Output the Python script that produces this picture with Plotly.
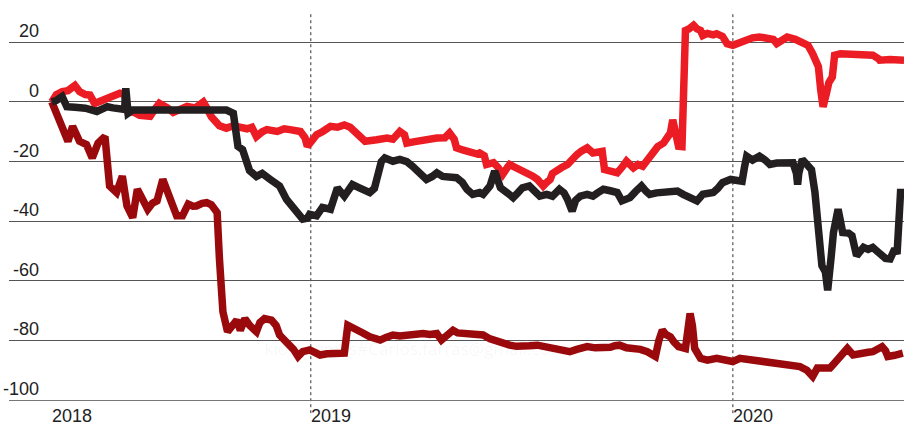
import plotly.graph_objects as go

# ---------------- data ----------------
red_dates = ["2018-05-22","2018-05-26","2018-05-31","2018-06-05","2018-06-11","2018-06-15","2018-06-20","2018-06-24","2018-06-28","2018-07-03",
"2018-07-09","2018-07-14","2018-07-20","2018-07-24","2018-07-27","2018-07-31","2018-08-06","2018-08-15","2018-08-19","2018-08-23",
"2018-08-30","2018-09-04","2018-09-10","2018-09-16","2018-09-23","2018-09-30","2018-10-03","2018-10-07","2018-10-14","2018-10-20",
"2018-10-26","2018-11-01","2018-11-07","2018-11-11","2018-11-15","2018-11-20","2018-11-24","2018-12-03","2018-12-09","2018-12-14",
"2018-12-23","2018-12-27","2018-12-29","2019-01-02","2019-01-06","2019-01-11","2019-01-18","2019-01-24","2019-01-30","2019-02-04",
"2019-02-10","2019-02-17","2019-02-27","2019-03-08","2019-03-13","2019-03-19","2019-03-23","2019-03-25","2019-04-01","2019-04-08",
"2019-04-14","2019-04-20","2019-04-27","2019-05-01","2019-05-05","2019-05-07","2019-05-13","2019-05-19","2019-05-25","2019-05-27",
"2019-05-31","2019-06-02","2019-06-08","2019-06-12","2019-06-16","2019-06-20","2019-06-22","2019-06-27","2019-07-01","2019-07-07",
"2019-07-12","2019-07-16","2019-07-21","2019-07-24","2019-07-27","2019-07-29","2019-08-02","2019-08-06","2019-08-11","2019-08-15",
"2019-08-19","2019-08-23","2019-08-28","2019-09-02","2019-09-06","2019-09-10","2019-09-12","2019-09-17","2019-09-23","2019-09-27",
"2019-10-01","2019-10-07","2019-10-11","2019-10-15","2019-10-20","2019-10-24","2019-10-28","2019-11-02","2019-11-06","2019-11-08",
"2019-11-10","2019-11-13","2019-11-15","2019-11-18","2019-11-21","2019-11-24","2019-11-28","2019-12-01","2019-12-04","2019-12-06",
"2019-12-10","2019-12-15","2019-12-18","2019-12-23","2019-12-27","2020-01-01","2020-01-07","2020-01-13","2020-01-18","2020-01-24",
"2020-01-30","2020-02-05","2020-02-08","2020-02-12","2020-02-17","2020-02-24","2020-03-02","2020-03-06","2020-03-10","2020-03-15",
"2020-03-17","2020-03-19","2020-03-22","2020-03-24","2020-03-27","2020-03-29","2020-04-03","2020-04-09","2020-04-20","2020-05-01",
"2020-05-06","2020-05-07","2020-05-16","2020-05-28"]
red_vals = [0,2.5,3.5,3.8,5.5,3.5,2.5,2.3,-0.5,0.5,
1.2,2,2.9,2.5,-3.5,-3.3,-4.5,-4.8,-2.5,-0.5,
-2,-3.5,-2.5,-1.5,-2,0,-2,-5,-8,-8.8,
-8,-8.5,-9,-8.5,-11.6,-10,-9.3,-9.9,-9,-9.3,
-9.9,-12,-14.9,-13,-11,-10,-8.2,-8.5,-7.7,-8.5,
-10.4,-13.2,-12.7,-12.1,-12.5,-9.9,-11,-13.8,-13.3,-12.7,
-12.5,-12.1,-12,-10.4,-12.5,-15.4,-16.2,-17,-17.5,-17.1,
-18,-21,-20.4,-22,-24.3,-22,-21,-22,-22.7,-23.5,
-24.9,-26,-28.2,-27,-26,-24,-22.7,-22,-21,-19,
-17.7,-16.5,-15.4,-17.1,-17,-16.6,-22.7,-23.5,-23.8,-22,
-19.9,-22.1,-21,-21.6,-19,-16.6,-15,-13.8,-11.5,-10.4,
-6,-10,-14.9,-15,24,24.5,25.7,24.5,24,22.3,
23,22.5,22.9,22,19.5,19,20,20.7,21.5,21.8,
21.5,21,19.6,20.5,21.8,21,20.1,19,16.2,11.8,
4,-1.6,3,6.5,8.4,15.7,16.2,16.2,16.2,15.7,
14.5,14,14.2,14]

black_dates = ["2018-05-22","2018-05-26","2018-05-31","2018-06-02","2018-06-04","2018-06-11","2018-06-20","2018-06-30","2018-07-09","2018-07-14",
"2018-07-20","2018-07-24","2018-07-25","2018-07-27","2018-07-31","2018-08-15","2018-09-01","2018-09-18","2018-10-06","2018-10-20",
"2018-10-26","2018-10-28","2018-10-30","2018-11-03","2018-11-07","2018-11-09","2018-11-15","2018-11-20","2018-11-27","2018-12-05",
"2018-12-11","2018-12-16","2018-12-20","2018-12-25","2018-12-29","2018-12-31","2019-01-06","2019-01-11","2019-01-18","2019-01-22",
"2019-01-24","2019-01-30","2019-02-06","2019-02-12","2019-02-21","2019-02-25","2019-02-27","2019-03-03","2019-03-06","2019-03-13",
"2019-03-19","2019-03-25","2019-03-30","2019-04-05","2019-04-11","2019-04-16","2019-04-20","2019-04-25","2019-05-01","2019-05-07",
"2019-05-12","2019-05-16","2019-05-21","2019-05-27","2019-05-30","2019-06-05","2019-06-09","2019-06-14","2019-06-20","2019-06-25",
"2019-06-29","2019-07-03","2019-07-09","2019-07-14","2019-07-18","2019-07-24","2019-07-29","2019-08-04","2019-08-08","2019-08-11",
"2019-08-15","2019-08-18","2019-08-22","2019-08-28","2019-09-02","2019-09-06","2019-09-11","2019-09-17","2019-09-23","2019-09-27",
"2019-10-04","2019-10-09","2019-10-14","2019-10-18","2019-10-21","2019-10-27","2019-11-02","2019-11-08","2019-11-14","2019-11-19",
"2019-11-25","2019-12-01","2019-12-06","2019-12-10","2019-12-15","2019-12-19","2019-12-23","2019-12-30","2020-01-04","2020-01-09",
"2020-01-11","2020-01-13","2020-01-18","2020-01-22","2020-01-24","2020-01-29","2020-02-02","2020-02-08","2020-02-13","2020-02-19",
"2020-02-22","2020-02-25","2020-02-26","2020-02-27","2020-03-01","2020-03-05","2020-03-09","2020-03-12","2020-03-15","2020-03-18",
"2020-03-21","2020-03-23","2020-03-26","2020-03-28","2020-04-01","2020-04-04","2020-04-05","2020-04-10","2020-04-13","2020-04-17",
"2020-04-20","2020-04-23","2020-04-27","2020-05-01","2020-05-06","2020-05-09","2020-05-12","2020-05-16","2020-05-20","2020-05-22",
"2020-05-24","2020-05-25","2020-05-28"]
black_vals = [0,0.5,1.8,0,-1.6,-1.8,-2.1,-3.2,-1.6,-2,
-2.1,-2.5,4.6,-3.8,-2.7,-2.7,-2.5,-2.7,-2.7,-2.7,
-3.8,-10,-14.9,-16,-20,-23,-25,-24,-26,-28.2,
-32.7,-35,-37.7,-39.3,-39,-37.7,-38.2,-35.4,-36,-32,
-28.8,-31.6,-27.7,-28.8,-30.4,-29,-24.9,-20,-18.8,-19.9,
-19.3,-20,-21.6,-24,-26,-25,-23.8,-25,-25.4,-25.4,
-27,-29.3,-31,-30.4,-31,-28.2,-23.2,-28.8,-30.5,-32.1,
-30.5,-28.8,-28.2,-30,-31.6,-31,-31.6,-29.3,-30.5,-32.7,
-36.6,-33,-31.6,-31,-31.6,-30.5,-29.3,-29.8,-30.4,-33.2,
-32.1,-30,-28.2,-30,-31,-30.5,-30.4,-30,-29.9,-31,
-32.1,-33.2,-31,-30.8,-30.4,-29,-27.1,-26,-26.3,-26.6,
-22,-18.2,-19.5,-19,-18.2,-19.5,-21,-20.5,-20.4,-20.8,
-20.4,-24,-27.7,-24,-19.3,-21,-22.7,-30.4,-47.1,-54.9,
-57,-63.2,-52,-43.8,-36,-41,-43.8,-44,-44.9,-51.6,
-50,-48.8,-49.5,-48.8,-50.5,-51.6,-52.5,-52.7,-49.3,-51,
-40,-30.4,-30.4]

dark_dates = ["2018-05-22","2018-05-26","2018-06-01","2018-06-05","2018-06-09","2018-06-15","2018-06-21","2018-06-26","2018-07-01","2018-07-07",
"2018-07-09","2018-07-11","2018-07-17","2018-07-22","2018-07-26","2018-07-31","2018-08-04","2018-08-09","2018-08-13","2018-08-17",
"2018-08-21","2018-08-26","2018-08-30","2018-09-03","2018-09-07","2018-09-12","2018-09-17","2018-09-21","2018-09-24","2018-09-29",
"2018-10-03","2018-10-07","2018-10-12","2018-10-14","2018-10-17","2018-10-21","2018-10-26","2018-10-29","2018-11-01","2018-11-05",
"2018-11-09","2018-11-12","2018-11-15","2018-11-18","2018-11-22","2018-11-28","2018-12-02","2018-12-05","2018-12-10","2018-12-14",
"2018-12-17","2018-12-21","2018-12-25","2018-12-31","2019-01-05","2019-01-09","2019-01-15","2019-01-20","2019-01-26","2019-01-30",
"2019-02-02","2019-02-06","2019-02-10","2019-02-15","2019-02-21","2019-02-25","2019-03-02","2019-03-07","2019-03-13","2019-03-19",
"2019-03-25","2019-04-01","2019-04-08","2019-04-14","2019-04-20","2019-04-24","2019-04-29","2019-05-04","2019-05-08","2019-05-13",
"2019-05-19","2019-05-24","2019-05-30","2019-06-05","2019-06-11","2019-06-16","2019-06-22","2019-06-28","2019-07-03","2019-07-09",
"2019-07-16","2019-07-21","2019-07-27","2019-08-02","2019-08-07","2019-08-13","2019-08-19","2019-08-24","2019-08-28","2019-09-04",
"2019-09-11","2019-09-17","2019-09-21","2019-09-25","2019-10-01","2019-10-07","2019-10-13","2019-10-19","2019-10-23","2019-10-26",
"2019-10-29","2019-11-01","2019-11-04","2019-11-08","2019-11-11","2019-11-15","2019-11-21","2019-11-23","2019-11-25","2019-11-27",
"2019-11-29","2019-12-04","2019-12-10","2019-12-18","2019-12-25","2020-01-01","2020-01-07","2020-01-13","2020-01-22","2020-01-29",
"2020-02-02","2020-02-11","2020-02-17","2020-02-24","2020-02-28","2020-03-05","2020-03-10","2020-03-14","2020-03-19","2020-03-25",
"2020-03-28","2020-04-01","2020-04-05","2020-04-09","2020-04-14","2020-04-18","2020-04-23","2020-04-27","2020-05-01","2020-05-06",
"2020-05-09","2020-05-12","2020-05-14","2020-05-20","2020-05-27"]
dark_vals = [0,-3.8,-8.2,-13.2,-8.2,-13.2,-14.3,-18.8,-13.8,-11.6,
-20,-28.2,-30.4,-24.9,-34.9,-38.8,-29.3,-32.7,-36,-34,
-33.2,-26,-30,-33.2,-38.2,-38.2,-34.3,-35,-34.9,-34,
-33.8,-34.5,-37.1,-52.7,-70.4,-77.1,-75,-73.2,-76.6,-72.7,
-74.9,-76,-77.1,-74,-72.7,-73.2,-75,-78.2,-80,-82.1,
-83,-85.4,-83.8,-83.2,-84,-84.9,-84.5,-84.3,-84.5,-84.3,
-74.9,-75.5,-76.6,-77.5,-78.8,-79.5,-79.9,-79,-78.2,-78.5,
-78.2,-78,-77.7,-78,-77.7,-79.9,-78.5,-76.6,-77.5,-77.7,
-77.7,-78.5,-78.2,-79.5,-80.4,-81,-81.6,-82,-82.1,-81.8,
-81.6,-82,-82.1,-82.5,-83,-83.8,-83,-82.5,-82.1,-82.5,
-82.7,-82.3,-81.8,-81.6,-82.5,-82.7,-83,-83.8,-84.5,-85.4,
-80,-76.6,-78,-78.8,-80.5,-82.1,-82.7,-78,-71,-75,
-82.7,-86,-86.6,-86,-86.5,-87.1,-86,-86.3,-86.6,-87,
-87.1,-87.5,-87.7,-88.2,-88.8,-90,-92.1,-89.3,-89.5,-89.3,
-88,-86,-84,-82.7,-84.9,-84.5,-83.8,-84,-83.8,-83,
-82.1,-83.5,-85.4,-85,-84.3]

y_ticks = [20, 0, -20, -40, -60, -80, -100]
year_labels = ["2018", "2019", "2020"]
year_dates = ["2018-05-22", "2019-01-01", "2020-01-01"]
year_lines = ["2019-01-01", "2020-01-01"]
watermark = "kioskoymas#Carlos.farras@gmail.com"

RED = "#ec1c24"
DARK = "#9a0a0c"
BLACK = "#231f20"

fig = go.Figure()

# faint watermark (drawn below the lines)
fig.add_trace(go.Scatter(x=["2018-11-22"], y=[-83.5], mode="text", text=[watermark],
                         textposition="middle right",
                         textfont=dict(family="Open Sans, Liberation Sans", size=17, color="rgba(0,0,0,0.045)"),
                         hoverinfo="skip", showlegend=False))

for d, v, c in [(dark_dates, dark_vals, DARK), (red_dates, red_vals, RED), (black_dates, black_vals, BLACK)]:
    fig.add_trace(go.Scatter(x=d, y=v, mode="lines", line=dict(color=c, width=7.5),
                             showlegend=False, hoverinfo="skip"))

shapes = []
for yd in year_lines:
    shapes.append(dict(type="line", xref="x", yref="paper", x0=yd, x1=yd, y0=-0.033, y1=0.97,
                       line=dict(color="#333333", width=1, dash="dot"), layer="below"))

annotations = []
for t in y_ticks:
    annotations.append(dict(x=0.0358, xref="paper", y=t, yref="y", text=str(t), showarrow=False,
                            xanchor="right", yanchor="bottom", yshift=-1,
                            font=dict(family="Liberation Sans", size=18, color="#222222")))
for lbl, d in zip(year_labels, year_dates):
    annotations.append(dict(x=d, xref="x", y=0, yref="paper", text=lbl, showarrow=False,
                            xanchor="left", yanchor="bottom", yshift=-28, xshift=-2,
                            font=dict(family="Liberation Sans", size=18, color="#222222")))

fig.update_layout(
    width=904, height=428,
    margin=dict(l=9, r=0, t=0, b=28),
    paper_bgcolor="white", plot_bgcolor="white",
    shapes=shapes, annotations=annotations,
    xaxis=dict(type="date", range=["2018-04-15", "2020-05-28"], showgrid=False, zeroline=False,
               showticklabels=False, ticks="", showline=True, linecolor="#777777", linewidth=1),
    yaxis=dict(range=[-100, 34.2], tickvals=y_ticks, showticklabels=False, ticks="",
               showgrid=True, gridcolor="#555555", gridwidth=1, zeroline=False, showline=False),
)

fig.write_html("out.html")
